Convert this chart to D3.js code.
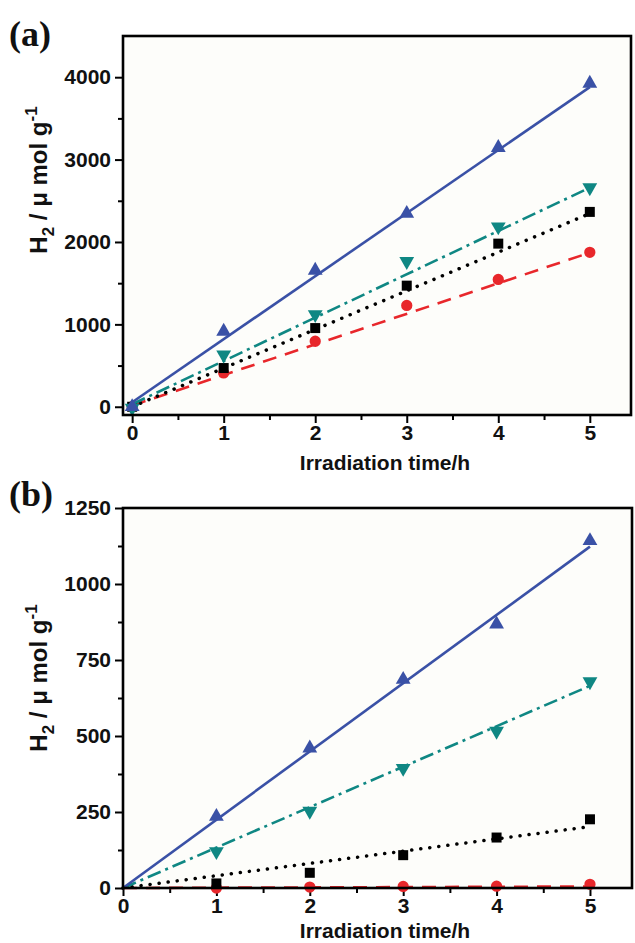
<!DOCTYPE html>
<meta charset="utf-8">
<style>
body { margin: 0; background: #fff; }
.axis text { font: bold 21px Arial, "Liberation Sans", sans-serif; fill: #111; }
.axis line { stroke: #000; stroke-width: 2; }
.title { font: bold 21px Arial, "Liberation Sans", sans-serif; fill: #111; }
.panel { font: bold 36px "Times New Roman", "Liberation Serif", serif; fill: #111; }
</style>
<head>
<script src="https://d3js.org/d3.v7.min.js"></script>
</head>
<body>
<script>

// hours on the x axis
var hours = [0, 1, 2, 3, 4, 5];
var hoursB = [1, 2, 3, 4, 5];

// panel (a) measured points
var aBlue  = [0, 915, 1655, 2345, 3145, 3925];
var aTeal  = [-15, 630, 1120, 1765, 2185, 2660];
var aBlack = [0, 470, 955, 1470, 1980, 2365];
var aRed   = [0, 410, 795, 1230, 1545, 1875];
// panel (a) fitted lines, value at 0 h and 5 h
var aBlueFit  = [55, 3880];
var aTealFit  = [30, 2660];
var aBlackFit = [0, 2345];
var aRedFit   = [15, 1870];

// panel (b) measured points (1..5 h)
var bBlue  = [235, 460, 686, 868, 1142];
var bTeal  = [120, 253, 394, 516, 679];
var bBlack = [15, 50, 108, 166, 226];
var bRed   = [0, 3, 5, 6, 12];
// panel (b) fitted lines
var bBlueFit  = [0, 1123];
var bTealFit  = [0, 665];
var bBlackFit = [0, 202];
var bRedFit   = [0, 5];

// tick values
var xMajor = [0, 1, 2, 3, 4, 5];
var xMinor = [0.5, 1.5, 2.5, 3.5, 4.5];
var aYMajor = [0, 1000, 2000, 3000, 4000];
var aYMinor = [500, 1500, 2500, 3500];
var bYMajor = [0, 250, 500, 750, 1000, 1250];
var bYMinor = [125, 375, 625, 875, 1125];

var svg = d3.select("body").append("svg")
    .attr("width", 635)
    .attr("height", 943);

function series(color, dash, symbol, size, rot, xs, pts, fit) {
    return { color: color, dash: dash, symbol: symbol, size: size, rot: rot, xs: xs, pts: pts, fit: fit };
}

function drawPanel(p) {
    var x = d3.scaleLinear().domain(p.xDomain).range([p.left, p.right]);
    var y = d3.scaleLinear().domain(p.yDomain).range([p.bottom, p.top]);

    // plot background
    svg.append("rect")
        .attr("x", p.left).attr("y", p.top)
        .attr("width", p.right - p.left).attr("height", p.bottom - p.top)
        .attr("fill", "#fdfdfa");

    // axes (major + minor ticks)
    svg.append("g").attr("class", "axis")
        .attr("transform", "translate(0," + p.bottom + ")")
        .call(d3.axisBottom(x).tickValues(xMajor).tickSize(8).tickPadding(2).tickFormat(d3.format("d")));
    svg.append("g").attr("class", "axis")
        .attr("transform", "translate(0," + p.bottom + ")")
        .call(d3.axisBottom(x).tickValues(xMinor).tickSize(5).tickFormat(""));
    svg.append("g").attr("class", "axis")
        .attr("transform", "translate(" + p.left + ",0)")
        .call(d3.axisLeft(y).tickValues(p.yMajor).tickSize(8).tickPadding(4).tickFormat(d3.format("d")));
    svg.append("g").attr("class", "axis")
        .attr("transform", "translate(" + p.left + ",0)")
        .call(d3.axisLeft(y).tickValues(p.yMinor).tickSize(5).tickFormat(""));
    svg.selectAll(".axis .domain").remove();

    var line = d3.line()
        .x(function(d) { return x(d[0]); })
        .y(function(d) { return y(d[1]); });

    p.series.forEach(function(s) {
        svg.append("path")
            .attr("d", line([[0, s.fit[0]], [5, s.fit[1]]]))
            .attr("fill", "none")
            .attr("stroke", s.color)
            .attr("stroke-width", s.dash == "dot" ? 3.5 : 2.6)
            .attr("stroke-linecap", s.dash == "dot" ? "round" : "butt")
            .attr("stroke-dasharray", s.dash == "dot" ? "0.1 9" : s.dash);

        svg.selectAll(null)
            .data(s.pts)
            .enter().append("path")
            .attr("d", d3.symbol().type(s.symbol).size(s.size))
            .attr("fill", s.color)
            .attr("transform", function(d, i) {
                return "translate(" + x(s.xs[i]) + "," + y(d) + ") rotate(" + s.rot + ")";
            });
    });

    // frame
    svg.append("rect")
        .attr("x", p.left).attr("y", p.top)
        .attr("width", p.right - p.left).attr("height", p.bottom - p.top)
        .attr("fill", "none")
        .attr("stroke", "#000")
        .attr("stroke-width", 2.6);

    // x title
    svg.append("text")
        .attr("class", "title")
        .attr("x", 385).attr("y", p.xTitleY)
        .attr("text-anchor", "middle")
        .text("Irradiation time/h");

    // y title
    var yt = svg.append("text")
        .attr("class", "title")
        .style("font-size", "24px")
        .attr("text-anchor", "middle")
        .attr("transform", "translate(47," + p.yTitleY + ") rotate(-90)");
    yt.append("tspan").text("H");
    yt.append("tspan").attr("dy", 7).attr("font-size", "17px").text("2");
    yt.append("tspan").attr("dy", -7).text(" / \u03bc mol g");
    yt.append("tspan").attr("dy", -10).attr("font-size", "17px").text("-1");

    // panel label
    svg.append("text")
        .attr("class", "panel")
        .attr("x", 9).attr("y", p.labelY)
        .text(p.label);
}

var blue = "#3a51a6", teal = "#0f8783", red = "#e8272b", black = "#000";

drawPanel({
    label: "(a)", labelY: 46,
    left: 123, right: 631, top: 36, bottom: 415,
    xDomain: [-0.1, 5.45], yDomain: [-100, 4500],
    yMajor: aYMajor, yMinor: aYMinor,
    xTitleY: 470, yTitleY: 180,
    series: [
        series(red, "14 9", d3.symbolCircle, 100, 0, hours, aRed, aRedFit),
        series(black, "dot", d3.symbolSquare, 100, 0, hours, aBlack, aBlackFit),
        series(teal, "14 5 3 5", d3.symbolTriangle, 95, 180, hours, aTeal, aTealFit),
        series(blue, "none", d3.symbolTriangle, 95, 0, hours, aBlue, aBlueFit)
    ]
});

drawPanel({
    label: "(b)", labelY: 506,
    left: 123, right: 632, top: 508, bottom: 888,
    xDomain: [0, 5.45], yDomain: [0, 1250],
    yMajor: bYMajor, yMinor: bYMinor,
    xTitleY: 938, yTitleY: 678,
    series: [
        series(red, "14 9", d3.symbolCircle, 100, 0, hoursB, bRed, bRedFit),
        series(black, "dot", d3.symbolSquare, 100, 0, hoursB, bBlack, bBlackFit),
        series(teal, "14 5 3 5", d3.symbolTriangle, 95, 180, hoursB, bTeal, bTealFit),
        series(blue, "none", d3.symbolTriangle, 95, 0, hoursB, bBlue, bBlueFit)
    ]
});

</script>
</body>
</html>
